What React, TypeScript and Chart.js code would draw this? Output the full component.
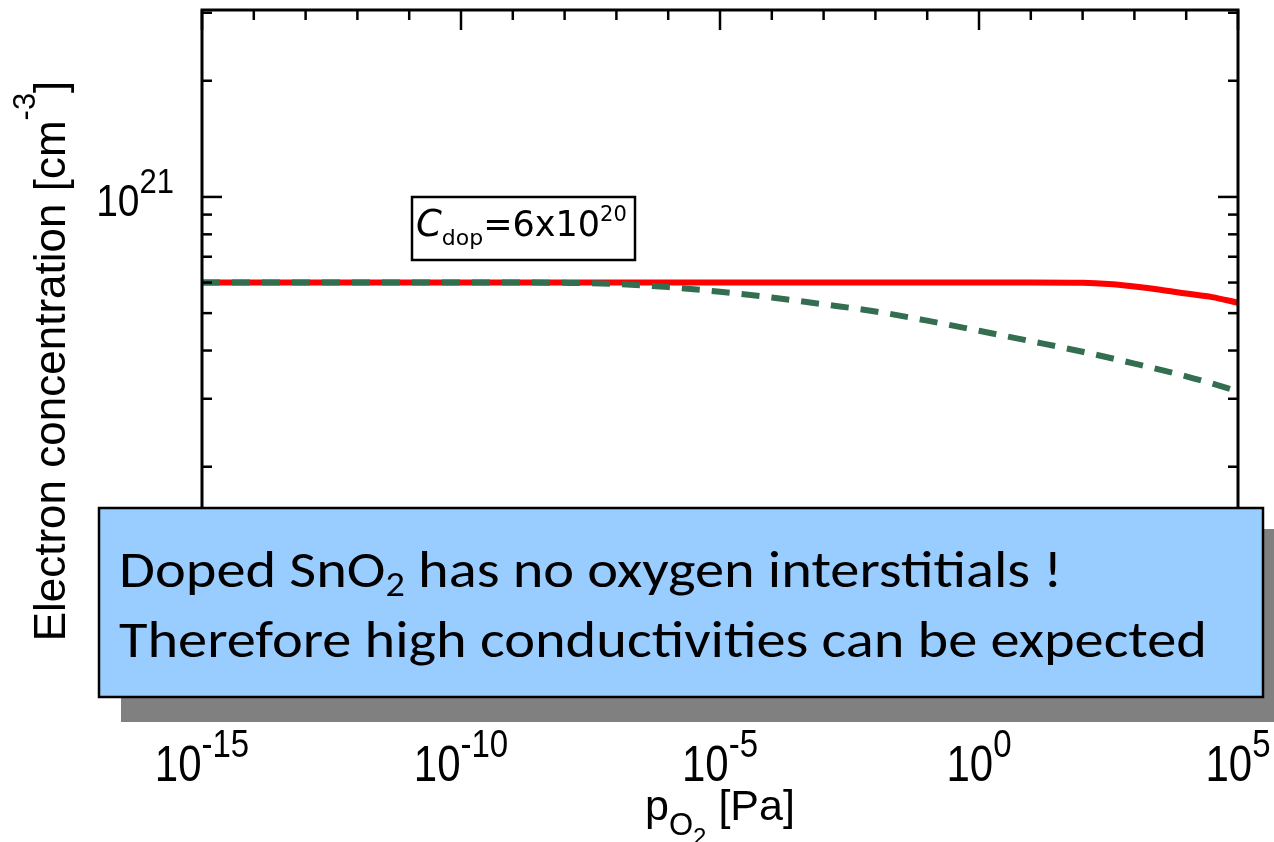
import React, { useEffect, useRef } from "react";
import { Chart, registerables } from "chart.js";

Chart.register(...registerables);

// ---------------- data ----------------
// red solid curve
const redPressure = [1e-15, 1e-10, 1e-5, 1, 1e1, 1e2, 3.16e2, 1e3, 3.16e3, 1e4, 3.16e4, 1e5];
const redElectrons = [6e20, 6e20, 6e20, 6e20, 6e20, 5.99e20, 5.95e20, 5.86e20, 5.75e20, 5.62e20, 5.5e20, 5.32e20];
// green dashed curve
const greenPressure = [1e-15, 1e-10, 1e-9, 1e-8, 1e-7, 1e-6, 1e-5, 1e-4, 1e-3, 1e-2, 1e-1, 1, 1e1, 1e2, 1e3, 1e4, 1e5];
const greenElectrons = [6e20, 6e20, 6e20, 5.99e20, 5.95e20, 5.84e20, 5.68e20, 5.49e20, 5.27e20, 5.05e20, 4.78e20, 4.5e20, 4.23e20, 3.97e20, 3.7e20, 3.43e20, 3.14e20];

// ticks
const xTickValues = [1e-15, 1e-10, 1e-5, 1, 1e5];
const xTickExponents = ["-15", "-10", "-5", "0", "5"];
const xMinorTicks = [1e-14, 1e-13, 1e-12, 1e-11, 1e-9, 1e-8, 1e-7, 1e-6, 1e-4, 1e-3, 1e-2, 1e-1, 1e1, 1e2, 1e3, 1e4];
const yTickValues = [1e20, 1e21];
const yTickExponents = ["20", "21"];
const yMinorTicks = [5e19, 6e19, 7e19, 8e19, 9e19, 2e20, 3e20, 4e20, 5e20, 6e20, 7e20, 8e20, 9e20, 2e21, 3e21];

const xRange = [1e-15, 1e5];
const yRange = [4.63e19, 3.05e21];

// texts
const yTitleParts = ["Electron concentration [cm", "-3", "]"];
const xTitleParts = ["p", "O", "2", " [Pa]"];
const legendParts = ["C", "dop", "=6x10", "20"];
const noteLine1Parts = ["Doped SnO", "2", " has no oxygen interstitials !"];
const noteLine2 = "Therefore high conductivities can be expected";

// ---------------- helpers ----------------
type Part = { text: string; font: string; dy: number };

function drawParts(
  ctx: CanvasRenderingContext2D,
  parts: Part[],
  x: number,
  y: number,
  align: "left" | "center" | "right",
  sx = 1,
  sy = 1
) {
  let total = 0;
  const widths = parts.map((p) => {
    ctx.font = p.font;
    const w = ctx.measureText(p.text).width;
    total += w;
    return w;
  });
  let cur = align === "center" ? -total / 2 : align === "right" ? -total : 0;
  ctx.save();
  ctx.translate(x, y);
  ctx.scale(sx, sy);
  ctx.textAlign = "left";
  ctx.textBaseline = "alphabetic";
  parts.forEach((p, i) => {
    ctx.font = p.font;
    ctx.fillText(p.text, cur, p.dy / sy);
    cur += widths[i];
  });
  ctx.restore();
}

const SANS = '"Liberation Sans", Arial, Helvetica, sans-serif';
const DEJAVU = '"DejaVu Sans", sans-serif';
const NOTE = 'Carlito, Lato, sans-serif';

const decorPlugin = {
  id: "decor",
  afterDraw(chart: any) {
    const { ctx, chartArea: a } = chart;
    const xs = chart.scales.x;
    const ys = chart.scales.y;
    ctx.save();
    ctx.strokeStyle = "#000";
    ctx.fillStyle = "#000";

    // frame
    ctx.lineWidth = 3;
    ctx.strokeRect(a.left, a.top, a.right - a.left, a.bottom - a.top);

    // ticks (inward, mirrored)
    ctx.lineWidth = 2.5;
    const seg = (x1: number, y1: number, x2: number, y2: number) => {
      ctx.beginPath();
      ctx.moveTo(x1, y1);
      ctx.lineTo(x2, y2);
      ctx.stroke();
    };
    xTickValues.forEach((v) => {
      const px = xs.getPixelForValue(v);
      seg(px, a.bottom, px, a.bottom - 20);
      seg(px, a.top, px, a.top + 20);
    });
    xMinorTicks.forEach((v) => {
      const px = xs.getPixelForValue(v);
      seg(px, a.bottom, px, a.bottom - 10);
      seg(px, a.top, px, a.top + 10);
    });
    yTickValues.forEach((v) => {
      const py = ys.getPixelForValue(v);
      seg(a.left, py, a.left + 20, py);
      seg(a.right, py, a.right - 20, py);
    });
    yMinorTicks.forEach((v) => {
      if (v < yRange[0] || v > yRange[1]) return;
      const py = ys.getPixelForValue(v);
      seg(a.left, py, a.left + 10, py);
      seg(a.right, py, a.right - 10, py);
    });

    // y tick labels
    yTickValues.forEach((v, i) => {
      const py = ys.getPixelForValue(v);
      drawParts(
        ctx,
        [
          { text: "10", font: `39px ${SANS}`, dy: 0 },
          { text: yTickExponents[i], font: `31px ${SANS}`, dy: -23 },
        ],
        a.left - 28,
        py + 19,
        "right",
        1,
        1.12
      );
    });

    // x tick labels
    xTickValues.forEach((v, i) => {
      const px = xs.getPixelForValue(v);
      drawParts(
        ctx,
        [
          { text: "10", font: `42px ${SANS}`, dy: 0 },
          { text: xTickExponents[i], font: `33px ${SANS}`, dy: -24 },
        ],
        px,
        781,
        "center",
        1,
        1.2
      );
    });

    // y title (rotated)
    ctx.save();
    ctx.translate(65, (a.top + a.bottom) / 2);
    ctx.rotate(-Math.PI / 2);
    drawParts(
      ctx,
      [
        { text: yTitleParts[0], font: `44px ${SANS}`, dy: 0 },
        { text: yTitleParts[1], font: `31px ${SANS}`, dy: -30 },
        { text: yTitleParts[2], font: `44px ${SANS}`, dy: 0 },
      ],
      0,
      0,
      "center"
    );
    ctx.restore();

    // x title
    drawParts(
      ctx,
      [
        { text: xTitleParts[0], font: `43px ${SANS}`, dy: 0 },
        { text: xTitleParts[1], font: `31px ${SANS}`, dy: 15 },
        { text: xTitleParts[2], font: `24px ${SANS}`, dy: 25 },
        { text: xTitleParts[3], font: `43px ${SANS}`, dy: 0 },
      ],
      (a.left + a.right) / 2,
      820,
      "center"
    );

    // legend box
    ctx.fillStyle = "#fff";
    ctx.fillRect(412, 197, 223, 63);
    ctx.lineWidth = 2.5;
    ctx.strokeStyle = "#000";
    ctx.strokeRect(412, 197, 223, 63);
    ctx.fillStyle = "#000";
    drawParts(
      ctx,
      [
        { text: legendParts[0], font: `italic 37px ${DEJAVU}`, dy: 0 },
        { text: legendParts[1], font: `22px ${DEJAVU}`, dy: 9 },
        { text: legendParts[2], font: `35px ${DEJAVU}`, dy: 0 },
        { text: legendParts[3], font: `21px ${DEJAVU}`, dy: -15 },
      ],
      416,
      236,
      "left"
    );

    // note box with shadow
    ctx.fillStyle = "#808080";
    ctx.fillRect(121, 529, 1200, 193);
    ctx.fillStyle = "#99CCFF";
    ctx.fillRect(99, 508, 1164, 189);
    ctx.lineWidth = 2.5;
    ctx.strokeStyle = "#000";
    ctx.strokeRect(99, 508, 1164, 189);

    ctx.fillStyle = "#000";
    ctx.font = `52px ${NOTE}`;
    const w2 = ctx.measureText(noteLine2).width;
    const sx = 1088 / w2;
    drawParts(
      ctx,
      [
        { text: noteLine1Parts[0], font: `52px ${NOTE}`, dy: 0 },
        { text: noteLine1Parts[1], font: `34px ${NOTE}`, dy: 9 },
        { text: noteLine1Parts[2], font: `52px ${NOTE}`, dy: 0 },
      ],
      119,
      587,
      "left",
      sx,
      1
    );
    drawParts(ctx, [{ text: noteLine2, font: `52px ${NOTE}`, dy: 0 }], 119, 657, "left", sx, 1);

    ctx.restore();
  },
};

export default function App() {
  const canvasRef = useRef<HTMLCanvasElement | null>(null);

  useEffect(() => {
    if (!canvasRef.current) return;
    const chart = new Chart(canvasRef.current, {
      type: "line",
      data: {
        datasets: [
          {
            label: "dashed",
            data: greenPressure.map((p, i) => ({ x: p, y: greenElectrons[i] })),
            borderColor: "#336e50",
            borderWidth: 6,
            borderDash: [18, 12],
            pointRadius: 0,
            cubicInterpolationMode: "monotone",
            fill: false,
            order: 0,
          },
          {
            label: "solid",
            data: redPressure.map((p, i) => ({ x: p, y: redElectrons[i] })),
            borderColor: "#ff0000",
            borderWidth: 6,
            pointRadius: 0,
            cubicInterpolationMode: "monotone",
            fill: false,
            order: 1,
          },
        ],
      },
      options: {
        animation: false,
        responsive: true,
        maintainAspectRatio: false,
        devicePixelRatio: 1,
        layout: { padding: { left: 202, right: 36, top: 10, bottom: 130 } },
        plugins: { legend: { display: false }, tooltip: { enabled: false }, title: { display: false } },
        scales: {
          x: { type: "logarithmic", min: xRange[0], max: xRange[1], display: false },
          y: { type: "logarithmic", min: yRange[0], max: yRange[1], display: false },
        },
      },
      plugins: [decorPlugin],
    } as any);
    return () => chart.destroy();
  }, []);

  return (
    <div style={{ position: "fixed", left: 0, top: 0, width: 1274, height: 842, background: "#fff" }}>
      <canvas ref={canvasRef} />
    </div>
  );
}
